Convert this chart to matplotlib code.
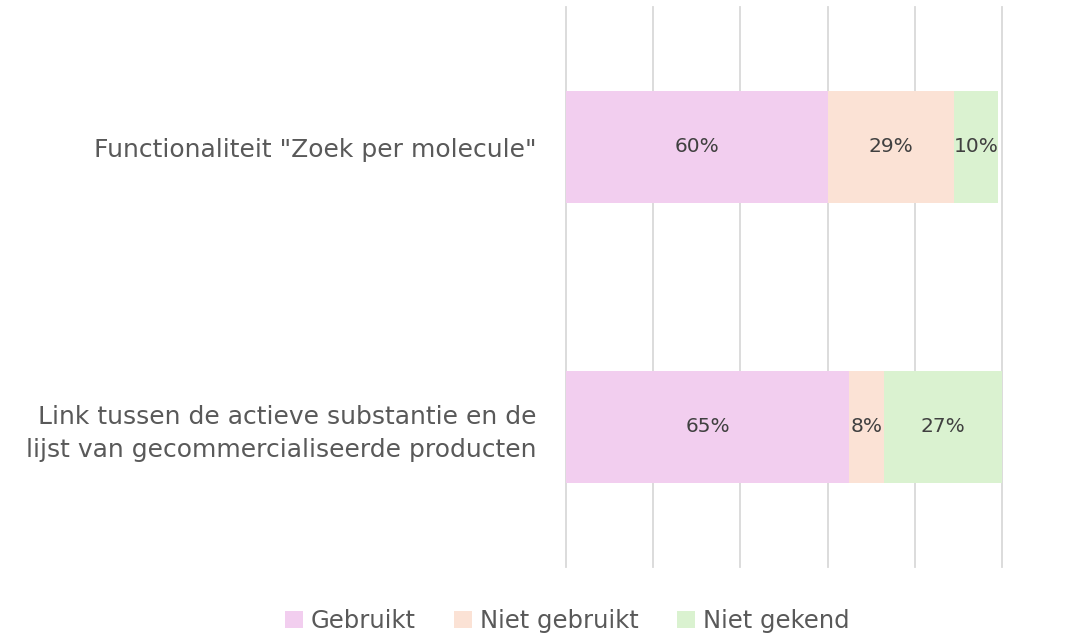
import matplotlib
matplotlib.use("Agg")
import matplotlib.pyplot as plt
import numpy as np

categories = ['Functionaliteit "Zoek per molecule"',
              'Link tussen de actieve substantie en de\nlijst van gecommercialiseerde producten']
series_names = ['Gebruikt', 'Niet gebruikt', 'Niet gekend']
gebruikt = [60, 65]
niet_gebruikt = [29, 8]
niet_gekend = [10, 27]
colors = ['#F2CEEF', '#FBE2D5', '#DAF2D0']

plt.rcParams['font.family'] = ['DejaVu Sans']

fig = plt.figure(figsize=(10.86, 6.34), dpi=100)
ax = fig.add_axes([566/1086, 1-567/634, (1002-566)/1086, (567-7)/634])

y = np.arange(len(categories))
left = np.zeros(len(categories))
for name, vals, c in zip(series_names, [gebruikt, niet_gebruikt, niet_gekend], colors):
    vals = np.array(vals, dtype=float)
    ax.barh(y, vals, left=left, height=0.4, color=c, label=name, zorder=2)
    for yi, l, v in zip(y, left, vals):
        ax.text(l + v/2, yi, f'{int(v)}%', ha='center', va='center',
                fontsize=14.5, color='#404040', zorder=3)
    left += vals

ax.set_xlim(0, 100)
ax.set_ylim(1.5, -0.5)
ax.set_xticks(np.arange(0, 101, 20))
ax.xaxis.grid(True, color='#D9D9D9', linewidth=1.3, zorder=0)
for gl in ax.get_xgridlines():
    gl.set_clip_on(False)
ax.set_axisbelow(True)
ax.tick_params(axis='x', length=0, labelbottom=False)
ax.tick_params(axis='y', length=0, pad=21)
ax.set_yticks(y)
ax.set_yticklabels(categories, fontsize=18, color='#595959', linespacing=1.45)
for lbl in ax.get_yticklabels():
    lbl.set_horizontalalignment('right')
for s in ax.spines.values():
    s.set_visible(False)

fig.legend(loc='center', bbox_to_anchor=(567/1086, 1-621/634), ncol=3, frameon=False,
           fontsize=17.5, labelcolor='#595959', handlelength=0.75, handleheight=0.75,
           handletextpad=0.3, columnspacing=1.6)

fig.savefig('out.png', dpi=100)
